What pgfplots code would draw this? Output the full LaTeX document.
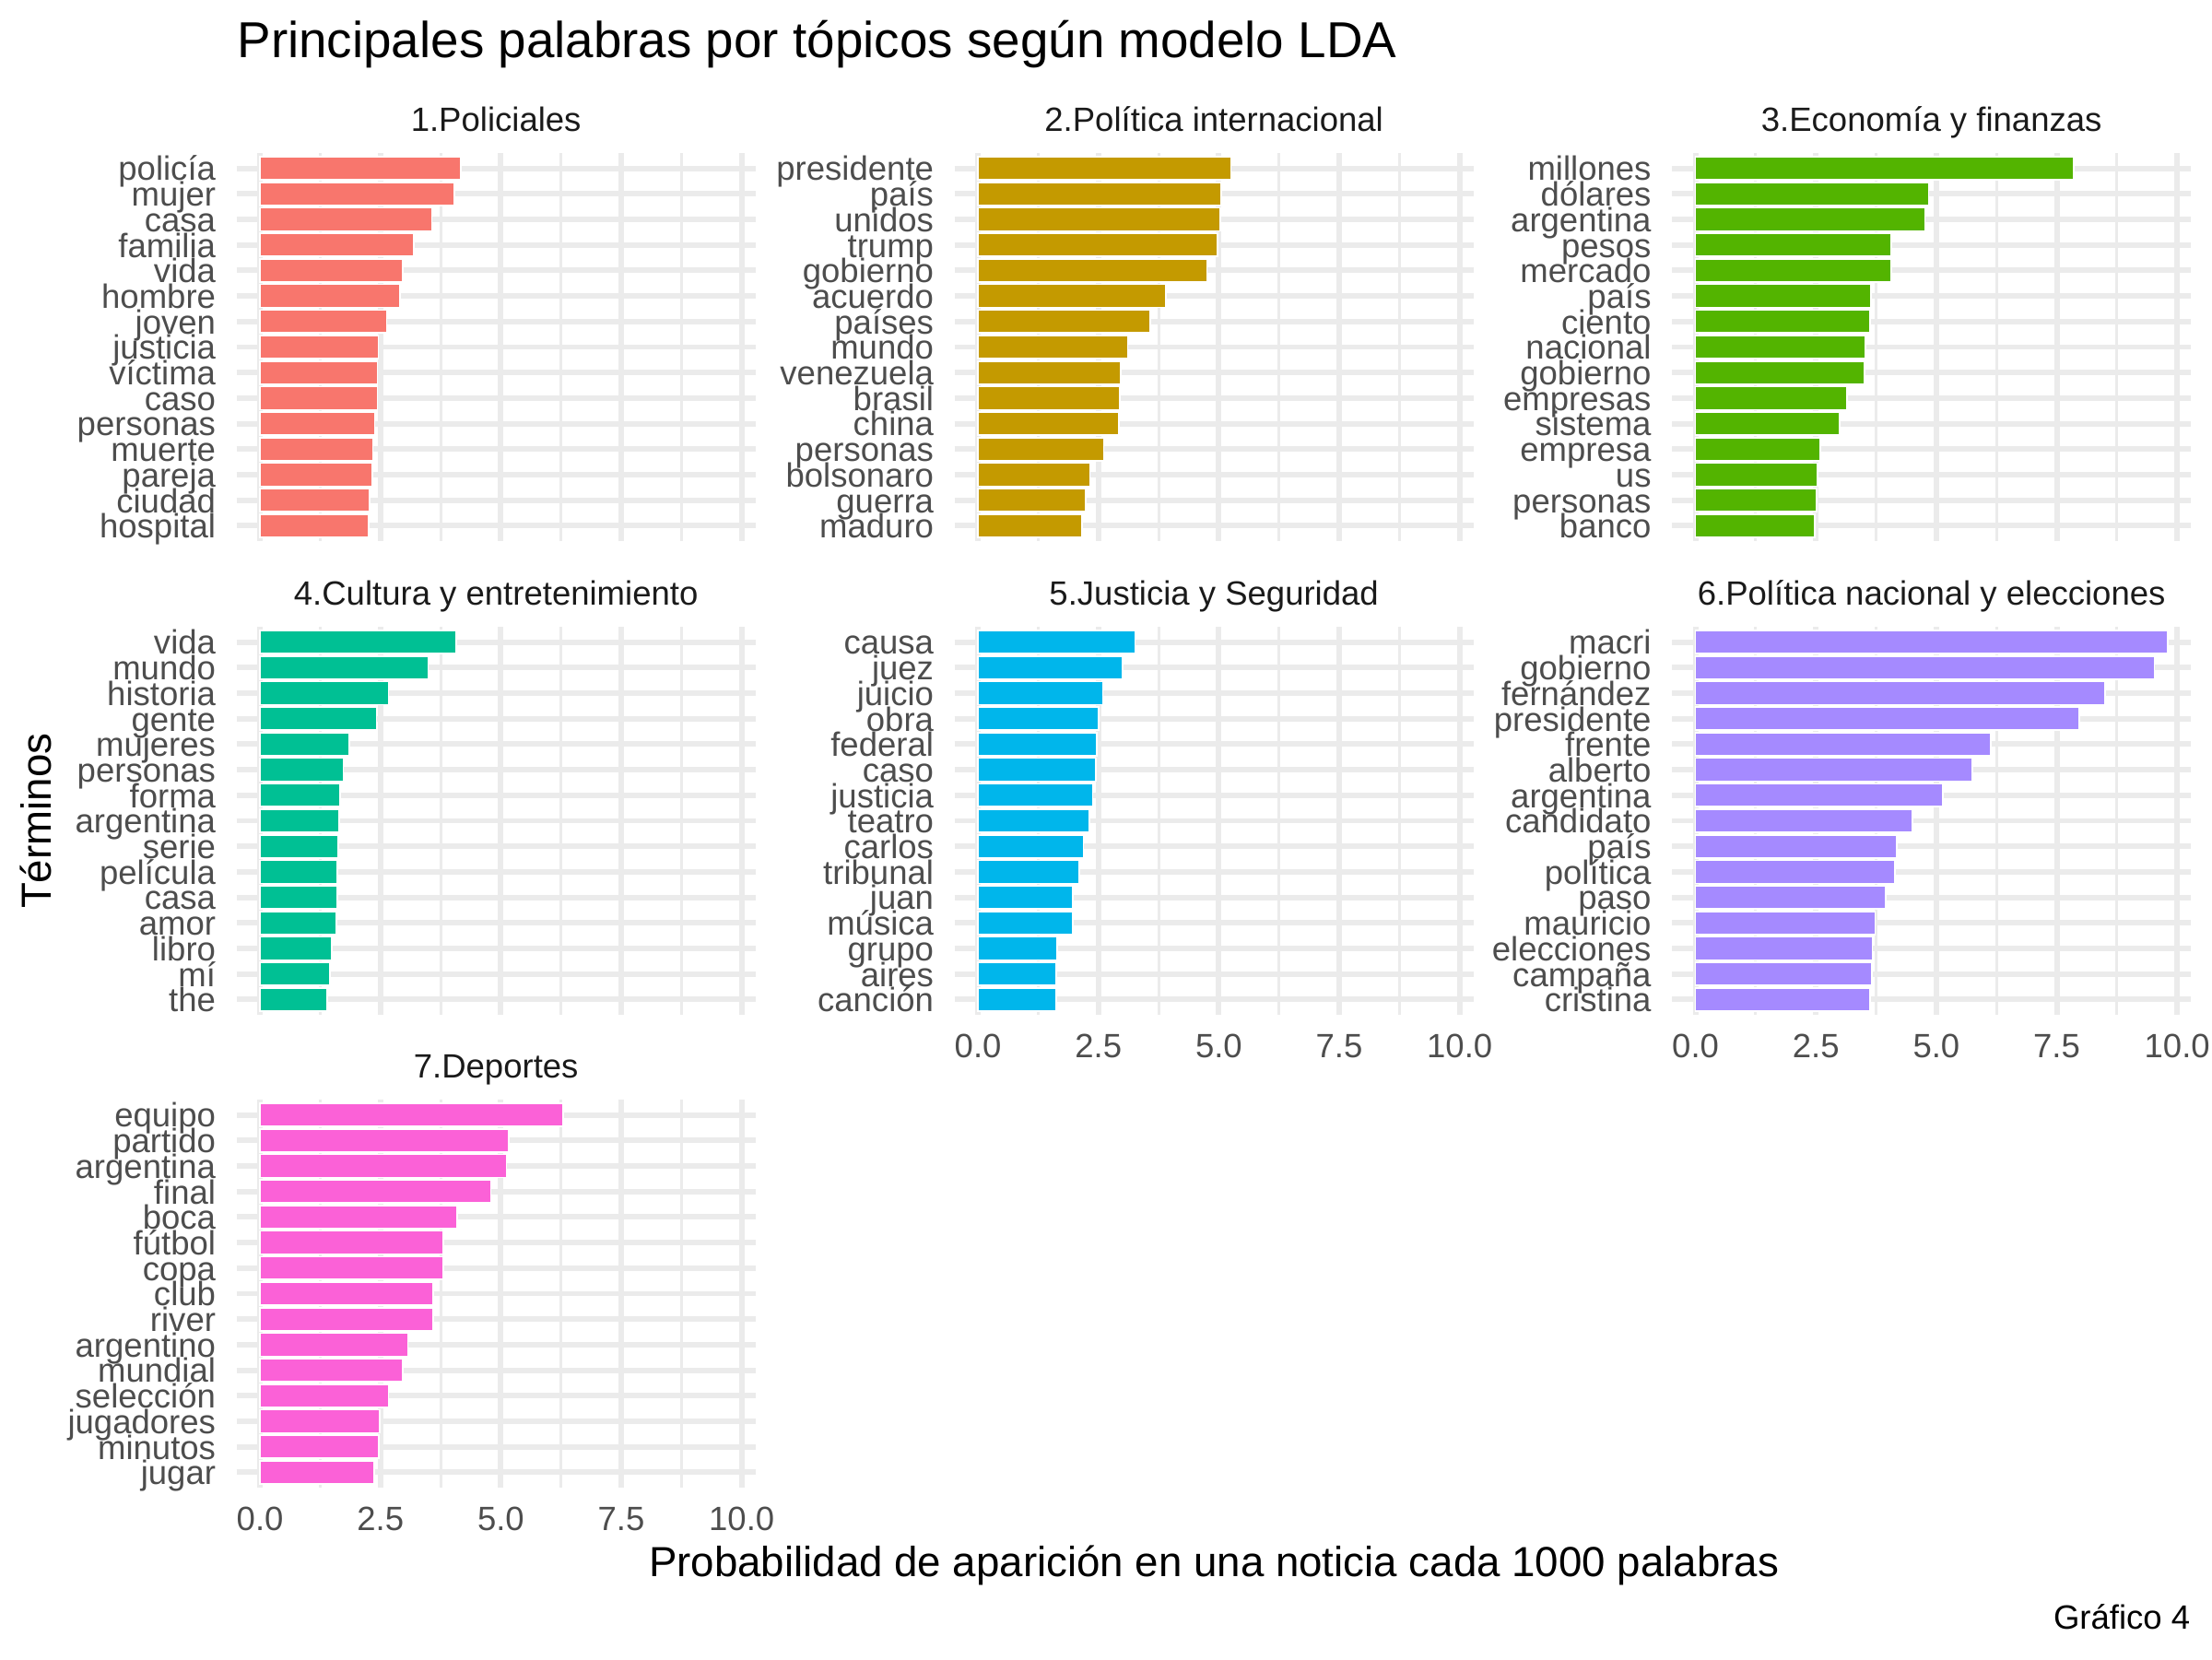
\documentclass[border=0pt]{standalone}
\usepackage{fontspec}
\setmainfont{Liberation Sans}
\usepackage{pgfplots}
\pgfplotsset{compat=1.18}
\definecolor{gray30}{HTML}{4D4D4D}
\definecolor{gray10}{HTML}{1A1A1A}
\definecolor{gray92}{HTML}{EBEBEB}
\definecolor{c1}{HTML}{F8766D}
\definecolor{c2}{HTML}{C49A00}
\definecolor{c3}{HTML}{53B400}
\definecolor{c4}{HTML}{00C094}
\definecolor{c5}{HTML}{00B6EB}
\definecolor{c6}{HTML}{A58AFF}
\definecolor{c7}{HTML}{FB61D7}
\pgfplotsset{panel/.style={
  scale only axis, width=135.2bp, height=101.04bp, anchor=north west,
  xmin=-0.49, xmax=10.29, ymin=0.4, ymax=15.6, y dir=reverse,
  xbar, bar width=0.9,
  axis line style={draw=none}, major tick length=0pt, minor tick length=0pt,
  xtick={0,2.5,5,7.5,10}, minor xtick={1.25,3.75,6.25,8.75},
  ytick={1,...,15},
  grid=both,
  major grid style={gray92, line width=1.42bp},
  minor grid style={gray92, line width=0.71bp},
  yticklabel style={font=\fontsize{8.8}{8.8}\selectfont, text=gray30, inner sep=0pt, anchor=base east, xshift=-5.2bp, yshift=-3.2bp},
  xticklabel style={font=\fontsize{8.8}{8.8}\selectfont, text=gray30, inner sep=0pt, anchor=base, yshift=-11.2bp},
  xticklabels={},
  title style={at={(0.5,1)}, anchor=base, yshift=-0.4bp, font=\fontsize{8.8}{8.8}\selectfont, text=gray10, inner sep=0pt},
}, withx/.style={xticklabels={0.0,2.5,5.0,7.5,10.0}},
bars/.style={fill=#1, draw=white, line width=0.4bp}}
\begin{document}
\begin{tikzpicture}
\path[use as bounding box] (0,0) rectangle (576bp,-432bp);
% Row 1
\begin{axis}[panel, at={(61.56bp,-39.84bp)}, title={1.Policiales},
  yticklabels={policía,mujer,casa,familia,vida,hombre,joven,justicia,víctima,caso,personas,muerte,pareja,ciudad,hospital}]
\addplot[bars=c1] coordinates {(4.17,1) (4.04,2) (3.57,3) (3.19,4) (2.97,5) (2.91,6) (2.63,7) (2.46,8) (2.44,9) (2.44,10) (2.38,11) (2.34,12) (2.33,13) (2.27,14) (2.25,15)};
\end{axis}
\begin{axis}[panel, at={(248.52bp,-39.84bp)}, title={2.Política internacional},
  yticklabels={presidente,país,unidos,trump,gobierno,acuerdo,países,mundo,venezuela,brasil,china,personas,bolsonaro,guerra,maduro}]
\addplot[bars=c2] coordinates {(5.25,1) (5.05,2) (5.03,3) (4.97,4) (4.75,5) (3.90,6) (3.58,7) (3.11,8) (2.96,9) (2.95,10) (2.93,11) (2.61,12) (2.32,13) (2.24,14) (2.16,15)};
\end{axis}
\begin{axis}[panel, at={(435.36bp,-39.84bp)}, title={3.Economía y finanzas},
  yticklabels={millones,dólares,argentina,pesos,mercado,país,ciento,nacional,gobierno,empresas,sistema,empresa,us,personas,banco}]
\addplot[bars=c3] coordinates {(7.85,1) (4.84,2) (4.76,3) (4.07,4) (4.06,5) (3.64,6) (3.62,7) (3.53,8) (3.51,9) (3.14,10) (2.99,11) (2.59,12) (2.53,13) (2.51,14) (2.47,15)};
\end{axis}
% Row 2
\begin{axis}[panel, at={(61.56bp,-163.2bp)}, title={4.Cultura y entretenimiento},
  yticklabels={vida,mundo,historia,gente,mujeres,personas,forma,argentina,serie,película,casa,amor,libro,mí,the}]
\addplot[bars=c4] coordinates {(4.08,1) (3.49,2) (2.67,3) (2.42,4) (1.85,5) (1.73,6) (1.66,7) (1.65,8) (1.62,9) (1.61,10) (1.60,11) (1.58,12) (1.49,13) (1.45,14) (1.39,15)};
\end{axis}
\begin{axis}[panel, withx, at={(248.52bp,-163.2bp)}, title={5.Justicia y Seguridad},
  yticklabels={causa,juez,juicio,obra,federal,caso,justicia,teatro,carlos,tribunal,juan,música,grupo,aires,canción}]
\addplot[bars=c5] coordinates {(3.26,1) (3.00,2) (2.59,3) (2.51,4) (2.47,5) (2.45,6) (2.38,7) (2.31,8) (2.19,9) (2.10,10) (1.97,11) (1.97,12) (1.64,13) (1.63,14) (1.63,15)};
\end{axis}
\begin{axis}[panel, withx, at={(435.36bp,-163.2bp)}, title={6.Política nacional y elecciones},
  yticklabels={macri,gobierno,fernández,presidente,frente,alberto,argentina,candidato,país,política,paso,mauricio,elecciones,campaña,cristina}]
\addplot[bars=c6] coordinates {(9.80,1) (9.53,2) (8.50,3) (7.97,4) (6.13,5) (5.75,6) (5.13,7) (4.50,8) (4.18,9) (4.14,10) (3.95,11) (3.73,12) (3.67,13) (3.66,14) (3.62,15)};
\end{axis}
% Row 3
\begin{axis}[panel, withx, at={(61.56bp,-286.32bp)}, title={7.Deportes},
  yticklabels={equipo,partido,argentina,final,boca,fútbol,copa,club,river,argentino,mundial,selección,jugadores,minutos,jugar}]
\addplot[bars=c7] coordinates {(6.30,1) (5.16,2) (5.12,3) (4.79,4) (4.09,5) (3.80,6) (3.80,7) (3.60,8) (3.59,9) (3.07,10) (2.97,11) (2.67,12) (2.49,13) (2.47,14) (2.37,15)};
\end{axis}
% Texts
\node[anchor=base west, inner sep=0pt, font=\fontsize{13.2}{13.2}\selectfont] at (61.6bp,-14.95bp) {Principales palabras por tópicos según modelo LDA};
\node[anchor=base, inner sep=0pt, font=\fontsize{11}{11}\selectfont] at (316.1bp,-410.6bp) {Probabilidad de aparición en una noticia cada 1000 palabras};
\node[anchor=base, rotate=90, inner sep=0pt, font=\fontsize{11}{11}\selectfont] at (13.2bp,-213.8bp) {Términos};
\node[anchor=base east, inner sep=0pt, font=\fontsize{8.8}{8.8}\selectfont] at (570.5bp,-424.3bp) {Gráfico 4};
\end{tikzpicture}
\end{document}
